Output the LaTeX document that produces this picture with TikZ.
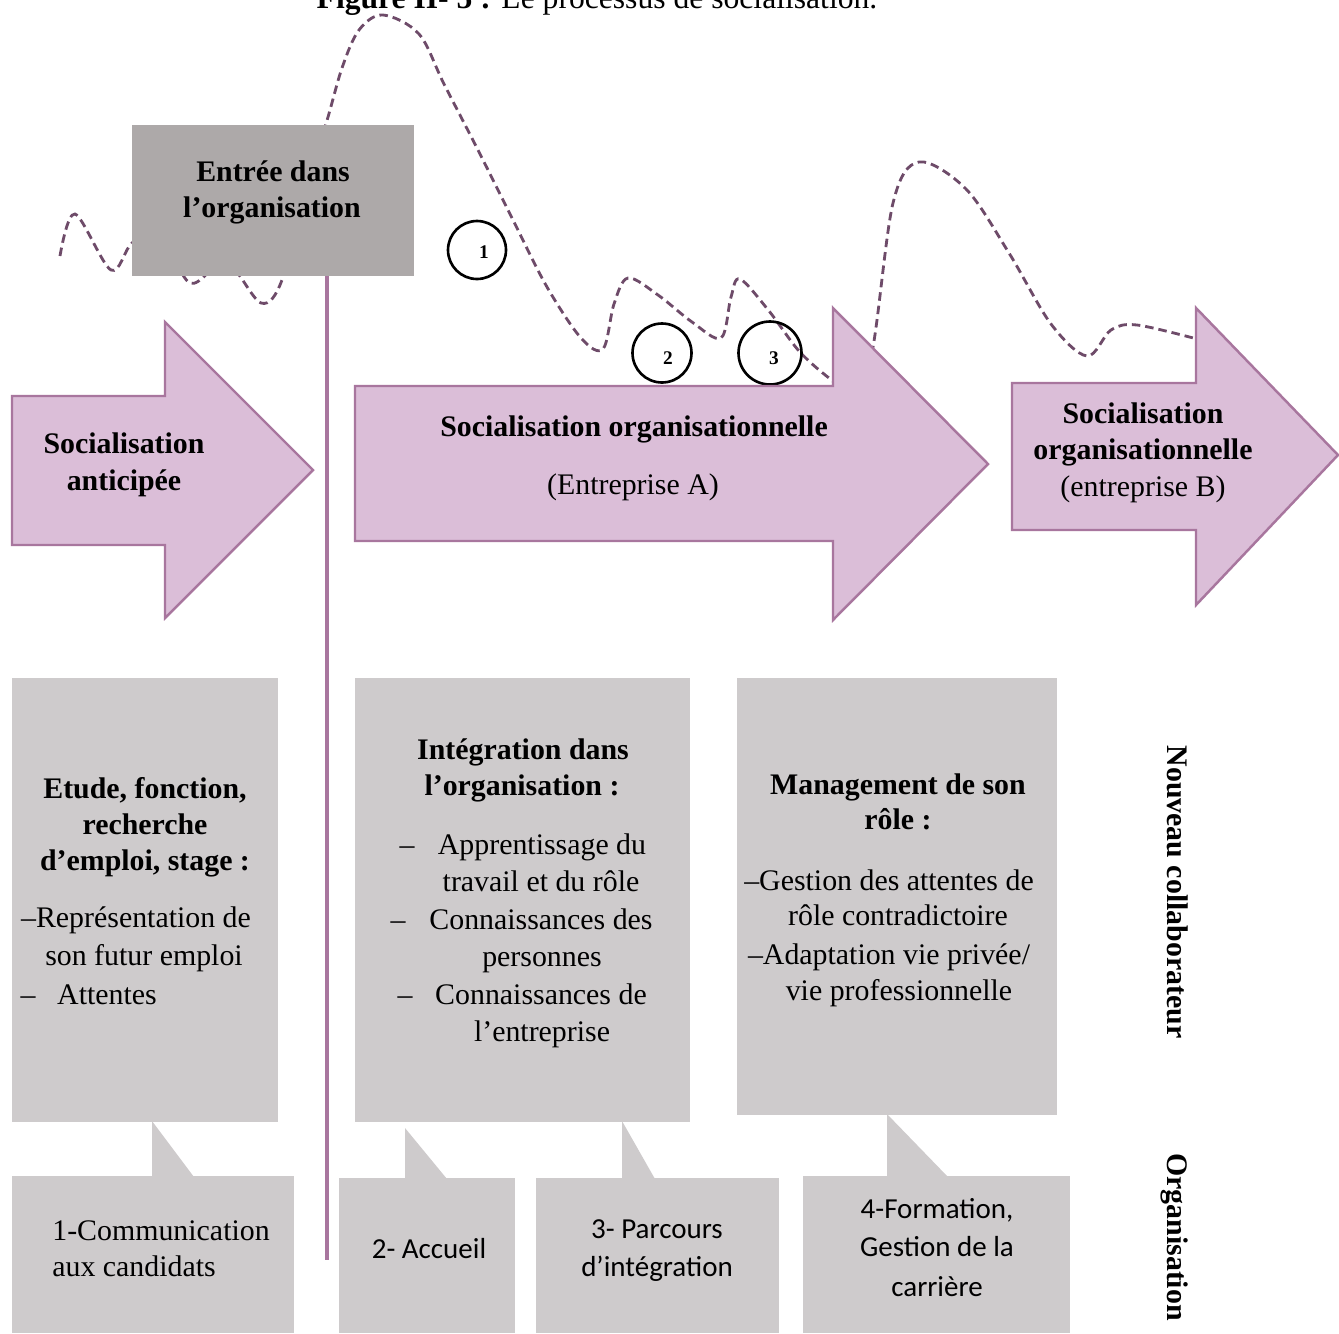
\documentclass[tikz,border=0pt]{standalone}
\usepackage{fontspec}
\setmainfont{Liberation Serif}
\newfontfamily\calfont{Carlito}
\definecolor{pinkfill}{HTML}{DBBED8}
\definecolor{pinkline}{HTML}{A8769E}
\definecolor{wavecol}{HTML}{6E4B69}
\definecolor{boxdark}{HTML}{ADA9A9}
\definecolor{boxlight}{HTML}{CECBCC}
\begin{document}
\begin{tikzpicture}[x=0.02cm,y=-0.02cm,
  basetxt/.style={text height=12pt, text depth=4pt, inner sep=0pt},
  txt/.style={basetxt, yshift=-0.05cm, font=\fontsize{17}{20.5}\selectfont},
  btxt/.style={basetxt, yshift=-0.05cm, font=\fontsize{17}{20.5}\selectfont\bfseries},
  ctxt/.style={basetxt, yshift=-0.04cm, font=\fontsize{16.5}{20}\selectfont\calfont},
  vtxt/.style={basetxt, font=\fontsize{17}{20.5}\selectfont\bfseries, rotate=-90},
  arrowshape/.style={fill=pinkfill, draw=pinkline, line width=1.4pt, line join=miter},
  graybox/.style={fill=boxlight},
  numcircle/.style={draw=black, circle, line width=1.5pt, inner sep=0pt},
  numtxt/.style={font=\fontsize{11}{12}\selectfont\bfseries, inner sep=0pt},
  wavestyle/.style={draw=wavecol, line width=1.6pt, dash pattern=on 0.17cm off 0.1cm}
]
\useasboundingbox (0,0) rectangle (1339,1333);
\fill[white] (0,0) rectangle (1339,1333);

% caption (cut at the top, as in the reference)
\node[anchor=base, font=\fontsize{18}{20}\selectfont, inner sep=0pt] (cap) at (597,8)
  {\textbf{Figure II- 5 :} Le processus de socialisation.};

% dashed wave
\draw[wavestyle] plot[smooth, tension=0.55] coordinates {
 (60,256) (75,214) (111,270) (132,243) (160,232) (190,283) (226,262) (261,303) (282,280)
 (300,200) (325,127) (342,68) (359,30) (383,15) (419,34) (444,84) (479,152) (513,220)
 (547,287) (581,338) (603,349) (614,304) (628,278) (658,295) (692,322) (721,338)
 (731,297) (740,279) (769,311) (799,351) (829,378) (852,392) (872,352) (893,203)
 (919,162) (966,189) (1009,253) (1051,324) (1087,356) (1111,330) (1137,325) (1197,339)};

% entry box
\fill[boxdark] (132,125) rectangle (414,276);
\node[btxt] (entree1) at (273,172) {Entrée dans};
\node[btxt] (entree2) at (272,208) {l’organisation};

% vertical line
\coordinate (vtop) at (327,276);
\coordinate (vbot) at (327,1260);
\draw[pinkline, line width=2pt] (vtop) -- (vbot);

% circles
\node[numcircle, minimum width=1.16cm, minimum height=1.12cm] (c1) at (477,250) {};
\node[numcircle, minimum width=1.14cm, minimum height=1.18cm] (c2) at (662,353) {};
\node[numcircle, minimum width=1.26cm, minimum height=1.18cm] (c3) at (770,353) {};
\node[numtxt] (n1) at (484,252) {1};
\node[numtxt] (n2) at (668,358) {2};
\node[numtxt] (n3) at (774,358) {3};

% arrows
\draw[arrowshape] (12,396) -- (165,396) -- (165,322) -- (313,470) -- (165,618) -- (165,545) -- (12,545) -- cycle;
\draw[arrowshape] (355,386) -- (833,386) -- (833,308) -- (988,464) -- (833,620) -- (833,541) -- (355,541) -- cycle;
\draw[arrowshape] (1012,383) -- (1196,383) -- (1196,308) -- (1338,455) -- (1196,605) -- (1196,530) -- (1012,530) -- cycle;

\node[btxt] (a1l1) at (124,444) {Socialisation};
\node[btxt] (a1l2) at (124,481) {anticipée};
\node[btxt] (a2l1) at (634,427) {Socialisation organisationnelle};
\node[txt] (a2l2) at (633,485) {(Entreprise A)};
\node[btxt] (a3l1) at (1143,414) {Socialisation};
\node[btxt] (a3l2) at (1143,450) {organisationnelle};
\node[txt] (a3l3) at (1143,487) {(entreprise B)};

% upper gray boxes
\fill[graybox] (12,678) rectangle (278,1122);
\fill[graybox] (355,678) rectangle (690,1122);
\fill[graybox] (737,678) rectangle (1057,1115);

\node[btxt] (ba1) at (145,789) {Etude, fonction,};
\node[btxt] (ba2) at (145,825) {recherche};
\node[btxt] (ba3) at (145,861) {d’emploi, stage :};
\node[txt] (ba4) at (136,918) {–Représentation de};
\node[txt] (ba5) at (144,956) {son futur emploi};
\node[txt] (ba6d) at (28,995) {–};
\node[txt] (ba6) at (107,995) {Attentes};

\node[btxt] (bb1) at (523,750) {Intégration dans};
\node[btxt] (bb2) at (522,786) {l’organisation :};
\node[txt] (bb3d) at (407,845) {–};
\node[txt] (bb3) at (542,845) {Apprentissage du};
\node[txt] (bb4) at (541,882) {travail et du rôle};
\node[txt] (bb5d) at (398,920) {–};
\node[txt] (bb5) at (541,920) {Connaissances des};
\node[txt] (bb6) at (542,957) {personnes};
\node[txt] (bb7d) at (405,995) {–};
\node[txt] (bb7) at (541,995) {Connaissances de};
\node[txt] (bb8) at (542,1032) {l’entreprise};

\node[btxt] (bc1) at (898,785) {Management de son};
\node[btxt] (bc2) at (898,820) {rôle :};
\node[txt] (bc3) at (889,881) {–Gestion des attentes de};
\node[txt] (bc4) at (898,916) {rôle contradictoire};
\node[txt] (bc5) at (889,955) {–Adaptation vie privée/};
\node[txt] (bc6) at (899,991) {vie professionnelle};

% pointers
\fill[graybox] (152,1121) -- (152,1177) -- (194,1177) -- cycle;
\fill[graybox] (405,1128) -- (405,1179) -- (447,1179) -- cycle;
\fill[graybox] (622,1121) -- (622,1179) -- (655,1179) -- cycle;
\fill[graybox] (887,1114) -- (887,1177) -- (948,1177) -- cycle;

% lower boxes
\fill[graybox] (12,1176) rectangle (294,1333);
\fill[graybox] (339,1178) rectangle (515,1333);
\fill[graybox] (536,1178) rectangle (779,1333);
\fill[graybox] (803,1176) rectangle (1070,1333);

\node[txt, anchor=west] (d1a) at (52,1231) {1-Communication};
\node[txt, anchor=west] (d1b) at (52,1267) {aux candidats};
\node[ctxt] (d2) at (429,1249) {2- Accueil};
\node[ctxt] (d3a) at (657,1229) {3- Parcours};
\node[ctxt] (d3b) at (657,1267) {d’intégration};
\node[ctxt] (d4a) at (937,1209) {4-Formation,};
\node[ctxt] (d4b) at (937,1247) {Gestion de la};
\node[ctxt] (d4c) at (937,1287) {carrière};

% vertical labels
\node[vtxt] (nc) at (1175,892) {Nouveau collaborateur};
\node[vtxt] (org) at (1175,1237) {Organisation};
\end{tikzpicture}
\end{document}
